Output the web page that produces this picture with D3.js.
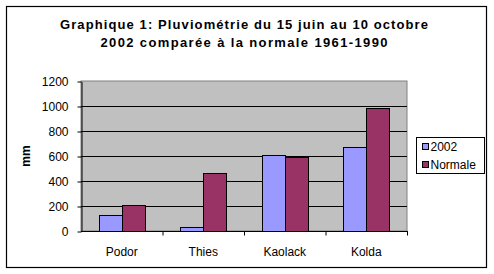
<!DOCTYPE html>
<html>
<head>
<meta charset="utf-8">
<script src="https://cdn.jsdelivr.net/npm/d3@7"></script>
<style>
  body { margin: 0; background: #fff; }
  svg { display: block; font-family: "Liberation Sans", Arial, sans-serif; }
</style>
</head>
<body>
<svg id="chart" width="494" height="274"></svg>
<script>
// chart data
const stations = ['Podor', 'Thies', 'Kaolack', 'Kolda'];
const seriesNames = ['2002', 'Normale'];
const rain2002 = [130, 32, 608, 672];
const rainNormale = [208, 464, 594, 984];
const yTicks = [0, 200, 400, 600, 800, 1000, 1200];
const titleLines = ['Graphique 1: Pluviométrie du 15 juin au 10 octobre', '2002 comparée à la normale 1961-1990'];

const colors = { '2002': '#9999ff', 'Normale': '#993366' };

const svg = d3.select('#chart');
const plot = { left: 81, right: 407, top: 81, bottom: 231 };

// outer frame
svg.append('rect')
  .attr('x', 6.5).attr('y', 6.5)
  .attr('width', 480).attr('height', 261)
  .attr('fill', '#fff').attr('stroke', '#000').attr('stroke-width', 1.2);

// title
svg.selectAll('.title')
  .data(titleLines)
  .join('text')
    .attr('class', 'title')
    .attr('x', 244)
    .attr('y', (d, i) => 29 + i * 18)
    .attr('text-anchor', 'middle')
    .attr('font-size', '13px')
    .attr('font-weight', 'bold')
    .attr('textLength', (d, i) => i === 0 ? 368 : 287)
    .attr('lengthAdjust', 'spacing')
    .text(d => d);

const x = d3.scaleBand().domain(stations).range([plot.left, plot.right]);
const xInner = d3.scaleBand().domain(seriesNames).range([0, 46]);
const y = d3.scaleLinear().domain([0, 1200]).range([plot.bottom, plot.top]);

// plot background
svg.append('rect')
  .attr('x', plot.left).attr('y', plot.top)
  .attr('width', plot.right - plot.left).attr('height', plot.bottom - plot.top)
  .attr('fill', '#c0c0c0')
  .attr('stroke', '#808080').attr('stroke-width', 1);

// gridlines
svg.append('g')
  .selectAll('line')
  .data(yTicks.filter(d => d > 0 && d < 1200))
  .join('line')
    .attr('x1', plot.left).attr('x2', plot.right)
    .attr('y1', d => Math.round(y(d)) + 0.5).attr('y2', d => Math.round(y(d)) + 0.5)
    .attr('stroke', '#000');

// bars
const groups = svg.append('g')
  .selectAll('g')
  .data(stations.map((s, i) => ({ station: s, values: [rain2002[i], rainNormale[i]] })))
  .join('g')
    .attr('transform', d => `translate(${Math.round(x(d.station) + x.bandwidth() / 2 - 23)},0)`);

groups.selectAll('rect')
  .data(d => d.values.map((v, j) => ({ name: seriesNames[j], value: v })))
  .join('rect')
    .attr('x', d => xInner(d.name) + 0.5)
    .attr('y', d => Math.round(y(d.value)) + 0.5)
    .attr('width', xInner.bandwidth())
    .attr('height', d => Math.round(y(0)) - Math.round(y(d.value)))
    .attr('fill', d => colors[d.name])
    .attr('stroke', '#000').attr('stroke-width', 1);

// y axis
const yAxis = svg.append('g')
  .attr('transform', `translate(${plot.left + 0.5},0.5)`)
  .call(d3.axisLeft(y).tickValues(yTicks).tickFormat(d3.format('d'))
    .tickSize(4).tickPadding(9).tickSizeOuter(0));
yAxis.select('.domain').attr('stroke', '#000');
yAxis.selectAll('line').attr('stroke', '#000');
yAxis.selectAll('text')
  .attr('font-family', '"Liberation Sans", Arial, sans-serif')
  .attr('font-size', '12px').attr('fill', '#000');

// x axis with ticks between categories
const xAxis = svg.append('g')
  .attr('transform', `translate(0,${plot.bottom + 0.5})`);
xAxis.append('line')
  .attr('x1', plot.left).attr('x2', plot.right + 1)
  .attr('stroke', '#000');
xAxis.selectAll('.sep')
  .data(stations.slice(1).concat(['end']))
  .join('line')
    .attr('class', 'sep')
    .attr('x1', d => (d === 'end' ? plot.right : x(d)) + 0.5)
    .attr('x2', d => (d === 'end' ? plot.right : x(d)) + 0.5)
    .attr('y1', 0).attr('y2', 4)
    .attr('stroke', '#000');
xAxis.selectAll('.lbl')
  .data(stations)
  .join('text')
    .attr('class', 'lbl')
    .attr('x', d => x(d) + x.bandwidth() / 2)
    .attr('y', 24)
    .attr('text-anchor', 'middle')
    .attr('font-size', '12px')
    .text(d => d);

// y title
svg.append('text')
  .attr('transform', 'translate(30,156) rotate(-90)')
  .attr('text-anchor', 'middle')
  .attr('font-size', '12px')
  .attr('font-weight', 'bold')
  .text('mm');

// legend
const legend = svg.append('g').attr('transform', 'translate(416.5,137.5)');
legend.append('rect')
  .attr('width', 68).attr('height', 36)
  .attr('fill', '#fff').attr('stroke', '#000');
const items = legend.selectAll('.item')
  .data(seriesNames)
  .join('g')
    .attr('class', 'item')
    .attr('transform', (d, i) => `translate(6,${6 + i * 18})`);
items.append('rect')
  .attr('width', 6).attr('height', 6)
  .attr('fill', d => colors[d]).attr('stroke', '#000');
items.append('text')
  .attr('x', 8).attr('y', 3)
  .attr('dy', '0.35em')
  .attr('font-size', '12px')
  .text(d => d);
</script>
</body>
</html>
